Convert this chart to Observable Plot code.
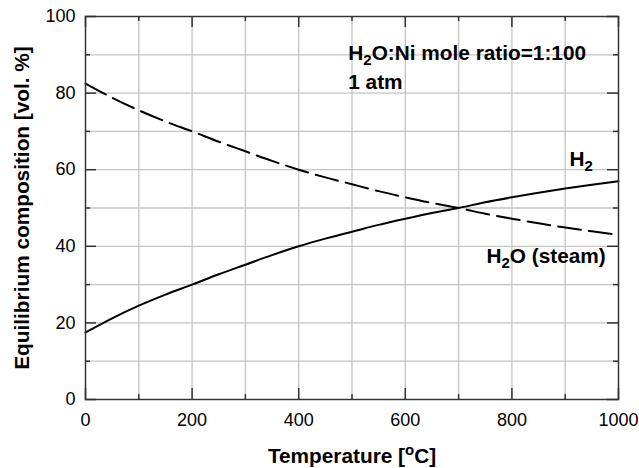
<!DOCTYPE html>
<html><head><meta charset="utf-8">
<script src="https://cdn.jsdelivr.net/npm/d3@7"></script>
<script src="https://cdn.jsdelivr.net/npm/@observablehq/plot@0.6"></script>
<style>html,body{margin:0;padding:0;background:#fff}</style>
</head><body><div id="chart"></div>
<script>
// ---- data ----
const temperature = [0,50,100,150,200,250,300,350,400,450,500,550,600,650,700,750,800,850,900,950,1000];
const h2  = [17.5,21.2,24.5,27.4,30.0,32.7,35.2,37.7,40.0,42.0,43.8,45.6,47.2,48.7,50.0,51.5,52.8,54.0,55.1,56.1,57.0];
const h2o = [82.5,78.8,75.5,72.6,70.0,67.3,64.8,62.3,60.0,58.0,56.2,54.4,52.8,51.3,50.0,48.5,47.2,46.0,44.9,43.9,43.0];
const xTicks = [0,200,400,600,800,1000];
const xMinorTicks = [100,300,500,700,900];
const yTicks = [0,20,40,60,80,100];
const yMinorTicks = [10,30,50,70,90];
const xGrid = [100,200,300,400,500,600,700,800,900];
const yGrid = [10,20,30,40,50,60,70,80,90];
const xLabel = "Temperature [^oC]";
const yLabel = "Equilibrium composition [vol. %]";
const annotations = [
  {text: "H_2O:Ni mole ratio=1:100", t: 493, v: 90.4, anchor: "start"},
  {text: "1 atm", t: 493, v: 82.8, anchor: "start"},
  {text: "H_2", t: 908, v: 62.8, anchor: "start"},
  {text: "H_2O (steam)", t: 976, v: 37.5, anchor: "end"}
];

const rows = temperature.map((t, i) => ({t, h2: h2[i], h2o: h2o[i]}));

const W = 639, H = 468, mL = 85, mR = 21, mT = 16, mB = 69;
const fw = W - mL - mR, fh = H - mT - mB;
const font = "'Liberation Sans', Arial, Helvetica, sans-serif";
const textStyle = {fontSize: 20.8, fontWeight: "bold", fill: "black"};

const chart = Plot.plot({
  width: W, height: H,
  marginLeft: mL, marginRight: mR, marginTop: mT, marginBottom: mB,
  style: {fontFamily: font, background: "white", color: "black"},
  x: {domain: [0, 1000], axis: null},
  y: {domain: [0, 100], axis: null},
  marks: [
    Plot.ruleX(xGrid, {x: d => d, stroke: "#c4c4c4", strokeWidth: 1.3}),
    Plot.ruleY(yGrid, {y: d => d, stroke: "#c4c4c4", strokeWidth: 1.3}),
    Plot.line(rows, {x: "t", y: "h2", stroke: "black", strokeWidth: 2, curve: "monotone-x"}),
    Plot.line(rows, {x: "t", y: "h2o", stroke: "black", strokeWidth: 2, strokeDasharray: "23,8", curve: "monotone-x"}),
    // inward ticks: bottom/top
    Plot.tickX(xTicks, {x: d => d, insetTop: fh - 11, stroke: "#333", strokeWidth: 1.5}),
    Plot.tickX(xTicks, {x: d => d, insetBottom: fh - 11, stroke: "#333", strokeWidth: 1.5}),
    Plot.tickX(xMinorTicks, {x: d => d, insetTop: fh - 5, stroke: "#333", strokeWidth: 1.5}),
    Plot.tickX(xMinorTicks, {x: d => d, insetBottom: fh - 5, stroke: "#333", strokeWidth: 1.5}),
    // inward ticks: left/right
    Plot.tickY(yTicks, {y: d => d, insetRight: fw - 11, stroke: "#333", strokeWidth: 1.5}),
    Plot.tickY(yTicks, {y: d => d, insetLeft: fw - 11, stroke: "#333", strokeWidth: 1.5}),
    Plot.tickY(yMinorTicks, {y: d => d, insetRight: fw - 5, stroke: "#333", strokeWidth: 1.5}),
    Plot.tickY(yMinorTicks, {y: d => d, insetLeft: fw - 5, stroke: "#333", strokeWidth: 1.5}),
    Plot.frame({stroke: "#333", strokeWidth: 1.5}),
    Plot.axisX(xTicks, {tickSize: 0, tickPadding: 14, fontSize: 18, fill: "black", label: null, tickFormat: d => String(d)}),
    Plot.axisY(yTicks, {tickSize: 0, tickPadding: 10, fontSize: 18, fill: "black", label: null, tickFormat: d => String(d)}),
    Plot.text([xLabel], {frameAnchor: "bottom", textAnchor: "middle", lineAnchor: "middle", dy: 57, ...textStyle}),
    Plot.text([yLabel], {frameAnchor: "left", textAnchor: "middle", lineAnchor: "middle", rotate: -90, dx: -63, ...textStyle}),
    Plot.text(annotations.filter(d => d.anchor === "start"), {x: "t", y: "v", text: "text", textAnchor: "start", lineAnchor: "middle", ...textStyle}),
    Plot.text(annotations.filter(d => d.anchor === "end"), {x: "t", y: "v", text: "text", textAnchor: "end", lineAnchor: "middle", ...textStyle})
  ]
});

// subscripts (_x) and superscripts (^x) as tspans
d3.select(chart).selectAll("text").each(function () {
  const s = this.textContent;
  if (!/[_^]\w/.test(s)) return;
  const parts = s.split(/([_^]\w)/).filter(p => p);
  this.textContent = "";
  let shift = 0;
  for (const p of parts) {
    const ts = d3.select(this).append("tspan");
    if (p[0] === "_") {
      ts.text(p.slice(1)).attr("font-size", "15px").attr("dy", 5 - shift); shift = 5;
    } else if (p[0] === "^") {
      ts.text(p.slice(1)).attr("font-size", "15px").attr("dy", -8 - shift); shift = -8;
    } else {
      ts.text(p); if (shift) ts.attr("dy", -shift); shift = 0;
    }
  }
});

document.getElementById("chart").appendChild(chart);
</script>
</body></html>
